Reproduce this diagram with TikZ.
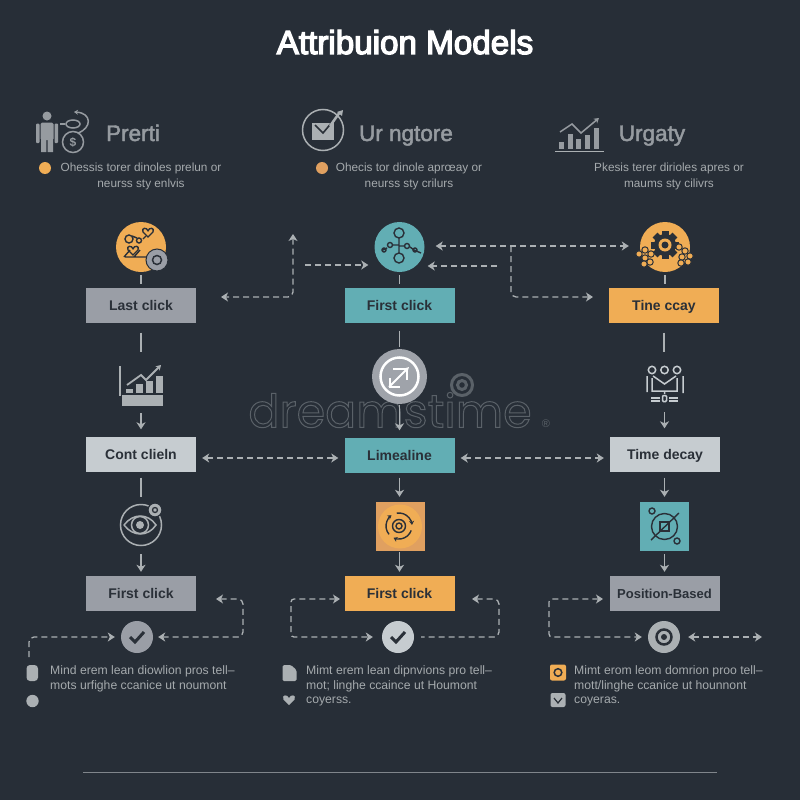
\documentclass[tikz,border=0pt]{standalone}
\usepackage{fontspec}
\setmainfont{Liberation Sans}
\newfontfamily\markfont{Poppins}
\newfontfamily\midfont[FakeBold=2]{Liberation Sans}
\newfontfamily\titlefont[FakeBold=4]{Liberation Sans}
\usetikzlibrary{arrows.meta}
\definecolor{pagedark}{HTML}{272E37}
\definecolor{inkdark}{HTML}{2A3038}
\definecolor{markorange}{HTML}{F0AD55}
\definecolor{softorange}{HTML}{E0A060}
\definecolor{markteal}{HTML}{62AEB4}
\definecolor{boxgrey}{HTML}{9A9EA6}
\definecolor{boxlight}{HTML}{C6CCD0}
\definecolor{linegrey}{HTML}{ABB0B3}
\definecolor{textgrey}{HTML}{A5AAAD}
\definecolor{headgrey}{HTML}{969BA0}
\definecolor{markgrey}{HTML}{5A6168}
\tikzset{
    >={Stealth[length=7pt, width=9pt, inset=2pt]},
    flowbox/.style={rectangle, minimum width=110pt, minimum height=35pt, inner sep=0pt, text=inkdark,
                    text height=10pt, text depth=0pt, font=\fontsize{14}{14}\selectfont\bfseries},
    iconround/.style={circle, minimum size=50pt, inner sep=0pt},
    iconsquare/.style={rectangle, minimum size=49pt, inner sep=0pt},
    checkround/.style={circle, minimum size=32pt, inner sep=0pt},
    headlabel/.style={text=headgrey, anchor=base, font=\fontsize{22.5}{23}\selectfont\midfont, inner sep=0pt},
    introtext/.style={text=textgrey, align=center, inner sep=0pt, font=\fontsize{11.8}{15.5}\selectfont},
    notetext/.style={text=textgrey, align=left, anchor=north west, inner sep=0pt, font=\fontsize{12.2}{14.5}\selectfont},
    stem/.style={draw=linegrey, line width=1.4pt, shorten <=3pt, shorten >=3pt},
    stemarrow/.style={stem, ->},
    dashlink/.style={draw=linegrey, line width=1.3pt, dash pattern=on 6pt off 4pt, rounded corners=5pt, <->},
    dashto/.style={dashlink, ->},
    dashfrom/.style={dashlink, <-},
    iconink/.style={draw=inkdark, line width=1.4pt, fill=none},
    iconpale/.style={draw=linegrey, line width=1.5pt, fill=none},
    heartmark/.pic={\path[pic actions] (0,4) -- (-4,0) .. controls (-5.5,-3.5) and (-1,-4) .. (0,-1)
                    .. controls (1,-4) and (5.5,-3.5) .. (4,0) -- cycle;},
}
\begin{document}
\begin{tikzpicture}[x=1pt, y=-1pt]
    \useasboundingbox (0,0) rectangle (800,800);
    \fill[pagedark] (0,0) rectangle (800,800);

    % Watermark:
    \node[text=markgrey, inner sep=0pt] (markword) at (390,410)
        {\fontsize{46}{46}\selectfont\markfont\special{pdf:code 1 Tr 1 w}dreamstime\special{pdf:code 0 Tr 1 w}};
    \node[text=markgrey, inner sep=0pt, font=\fontsize{11}{11}\selectfont] (markreg) at (546,424) {®};
    \draw[markgrey, line width=3pt] (462,385) circle (10.5) (462,385) circle (4.5);

    % Title and headings:
    \node[text=white, anchor=base, inner sep=0pt, font=\fontsize{33.2}{33}\selectfont\titlefont] (title) at (405,54) {Attribuion Models};
    \node[headlabel] (headone) at (133,141) {Prerti};
    \node[headlabel] (headtwo) at (406,141) {Ur ngtore};
    \node[headlabel] (headthree) at (652,141) {Urgaty};

    \node[introtext] (introone) at (141,176.5) {Ohessis torer dinoles prelun or\\neurss sty enlvis};
    \node[introtext] (introtwo) at (409,176.5) {Ohecis tor dinole aprœay or\\neurss sty crilurs};
    \node[introtext] (introthree) at (669,176.5) {Pkesis terer dirioles apres or\\maums sty cilivrs};
    \fill[markorange] (45,168) circle (6);
    \fill[softorange] (322,168) circle (6);

    % Heading icons:
    \fill[headgrey] (47,116) circle (4.5);
    \fill[headgrey, rounded corners=1.5pt] (40.5,122.5) rectangle (53.5,140);
    \fill[headgrey] (41,138) rectangle (46.3,152) (47.7,138) rectangle (53,152);
    \fill[headgrey, rounded corners=1pt] (36,123.5) rectangle (39.5,143) (54.5,123.5) rectangle (58,143);
    \draw[iconpale, draw=headgrey] (73,142) circle (10.5);
    \node[text=headgrey, inner sep=0pt, font=\fontsize{12}{12}\selectfont\bfseries] (dollar) at (73,142) {\$};
    \draw[iconpale, draw=headgrey] (73,124) ellipse (7 and 4);
    \draw[iconpale, draw=headgrey, -{Stealth[length=4pt, width=5pt]}] (78,133) .. controls (92,128) and (92,113) .. (74,112);
    \draw[iconpale, draw=headgrey] (60,124) -- (65,124);

    \draw[iconpale] (323,130) circle (20.5);
    \fill[linegrey] (312,123) rectangle (334,140);
    \draw[inkdark, line width=1.6pt] (315,125) -- (323,133) -- (333,121);
    \draw[linegrey, line width=2.5pt] (330,126) -- (340,112);
    \fill[linegrey] (337,112) -- (343,110) -- (342,116) -- cycle;

    \draw[iconpale, line width=1.8pt] (555,151.5) -- (604,151.5);
    \foreach \barx/\bartop in {561/142, 570/134, 578/139, 587/135, 596/128}
        \fill[headgrey] (\barx-2.5,\bartop) rectangle (\barx+2.5,149);
    \draw[iconpale, draw=headgrey, -{Stealth[length=5pt, width=6pt]}] (560,132) -- (572,124) -- (581,133) -- (599,118);

    % Flow boxes:
    \node[flowbox, fill=boxgrey] (boxlast) at (141,305) {Last click};
    \node[flowbox, fill=markteal] (boxfirst) at (399.5,305) {First click};
    \node[flowbox, fill=markorange] (boxtine) at (664,305) {Tine ccay};
    \node[flowbox, fill=boxlight] (boxcont) at (141,454) {Cont clieln};
    \node[flowbox, fill=markteal] (boxlime) at (399.5,455) {Limealine};
    \node[flowbox, fill=boxlight] (boxdecay) at (665,454) {Time decay};
    \node[flowbox, fill=boxgrey] (boxclick) at (141,593.5) {First click};
    \node[flowbox, fill=markorange] (boxsecond) at (399.5,593.5) {First click};
    \node[flowbox, fill=boxgrey, font=\fontsize{13}{13}\selectfont\bfseries] (boxposition) at (664.5,593.5) {Position-Based};

    % Round and square icons:
    \node[iconround, fill=markorange] (roundlast) at (141,247) {};
    \node[iconround, fill=markteal] (roundfirst) at (399.5,247) {};
    \node[iconround, fill=markorange] (roundtine) at (665,247) {};
    \node[iconround, minimum size=55pt, fill=boxgrey!95!white] (roundlime) at (399.5,376.5) {};
    \node[iconsquare, fill=softorange] (squareorange) at (400,526.5) {};
    \node[iconsquare, fill=markteal] (squareteal) at (664.5,526.5) {};
    \coordinate (chartleft) at (141,385);
    \coordinate (peopleright) at (664.5,385);
    \coordinate (eyeleft) at (141,525);

    % Orange round icon:
    \draw[iconink] (129,239) circle (4) (139,240.5) circle (2.5) (132,236) -- (137,238) (143,239) -- (146,236);
    \draw[iconink] (125,257) -- (148,257) (124,257) -- (130,250) (134,257) -- (140,250);
    \pic[iconink, scale=1.25] at (148,232) {heartmark};
    \pic[iconink, scale=1.25] at (133,250) {heartmark};
    \fill[boxgrey, draw=pagedark, line width=1pt] (157,260) circle (11);
    \draw[inkdark, line width=1.5pt] (157,260) circle (4.5);

    % Teal round icon:
    \draw[iconink] (399,238) -- (399,253) (399,246) -- (405,246) (392,245) -- (399,245) (387,248) -- (383,250)
        (410,247) -- (414,250) -- (421,253);
    \draw[iconink] (399,233) circle (5) (399,258) circle (5) (390,245) circle (2.5) (407,246) circle (2.5) (384,250) circle (2) (415,250) circle (2);

    % Gear icon:
    \foreach \a in {0,45,...,315}
        \fill[inkdark, rotate around={\a:(665,245)}] (661.5,231) rectangle (668.5,237);
    \fill[inkdark] (665,245) circle (11);
    \fill[markorange] (665,245) circle (6.5);
    \fill[inkdark] (665,245) circle (3.5);
    \foreach \bx/\by in {639/254, 645/250, 651/254, 645/258, 650/262, 644/264,
                         679/247, 685/251, 690/256, 682/257, 688/262, 681/263}
        \draw[inkdark, fill=markorange, line width=1pt] (\bx,\by) circle (3.2);

    % Middle row icons:
    \draw[iconpale] (120,366) -- (120,396);
    \fill[linegrey] (122,395) rectangle (163,406);
    \foreach \barx/\bartop in {129/389, 139/384, 149/381, 159/376}
        \fill[linegrey] (\barx-3.5,\bartop) rectangle (\barx+3.5,393);
    \draw[iconpale, line width=1.8pt, -{Stealth[length=5pt, width=6pt]}] (127,385) -- (141,375) -- (146,380) -- (161,365);

    \draw[white, line width=2.5pt] (399.5,376.5) circle (19);
    \draw[white, line width=2pt, -{Stealth[length=6pt, width=6pt]}] (389,387) -- (409,367);
    \draw[white, line width=2pt] (393,369) -- (407,369) (407,369) -- (407,380) (390,378) -- (390,387) -- (400,387);

    \draw[iconpale, draw=boxlight] (652,370) circle (3.7) (664.5,370) circle (3.7) (677,370) circle (3.7);
    \draw[iconpale, draw=boxlight] (647,376) -- (647,392) (683,376) -- (683,393) (653,376) -- (664.5,384) -- (676,376)
        (652,378) -- (652,391) -- (677,391) -- (677,378) (664.5,391) -- (664.5,394);
    \draw[iconpale, draw=boxlight] (651,398) -- (660,398) (651,401) -- (660,401) (669,398) -- (678,398) (669,401) -- (678,401);
    \draw[iconpale, draw=boxlight, rounded corners=1pt] (662.5,395.5) rectangle (666.5,401.5);

    % Lower row icons:
    \draw[iconpale] (141,525) circle (20.5);
    \draw[iconpale] (124,525) .. controls (133,513) and (148,513) .. (156,525) .. controls (148,537) and (133,537) .. (124,525);
    \draw[iconpale] (140,525) circle (8.5);
    \fill[linegrey] (140,525) circle (4);
    \fill[linegrey, draw=pagedark, line width=1.2pt] (155,510) circle (7);
    \draw[inkdark, line width=1.3pt] (155,510) circle (2.5);

    \fill[markorange] (400,526.5) circle (22);
    \foreach \a in {20,140,260}
        \draw[iconink, -{Stealth[length=4pt, width=5pt]}] (399,526) ++(\a:13) arc (\a:\a+95:13);
    \draw[iconink] (399,526) circle (6.5) (399,526) circle (3);

    \draw[iconink] (664.5,526.5) circle (13);
    \draw[iconink, line width=1.8pt] (660,522) rectangle (669,531);
    \draw[iconink] (651,540) -- (679,513);
    \draw[iconink] (652,511) circle (3) (677,541) circle (3);

    % Check circles:
    \node[checkround, fill=boxgrey] (checkleft) at (137,637) {};
    \node[checkround, fill=boxlight] (checkmiddle) at (398,637) {};
    \node[checkround, fill=linegrey] (targetright) at (664,637) {};
    \draw[inkdark, line width=3pt] (130,637) -- (135,642) -- (144,632);
    \draw[inkdark, line width=3pt] (391,637) -- (396,642) -- (405,632);
    \draw[inkdark, line width=2.5pt] (664,637) circle (7.5);
    \fill[inkdark] (664,637) circle (3);

    % Solid links:
    \draw[stem] (roundlast.south) -- (boxlast.north);
    \draw[stem] (roundfirst.south) -- (boxfirst.north);
    \draw[stem] (roundtine.south) -- (roundtine.south |- boxtine.north);
    \draw[stem, shorten <=10pt, shorten >=33pt] (boxlast.south) -- (chartleft);
    \draw[stem, shorten <=8pt, shorten >=2pt] (boxfirst.south) -- (roundlime.north);
    \draw[stem, shorten <=10pt, shorten >=33pt] (boxtine.south) -- (boxtine.south |- peopleright);
    \draw[stemarrow, shorten <=28pt, shorten >=7pt] (chartleft) -- (boxcont.north);
    \draw[stemarrow, shorten <=1pt, shorten >=7pt] (roundlime.south) -- (boxlime.north);
    \draw[stemarrow, shorten <=27pt, shorten >=8pt] (peopleright) -- (peopleright |- boxdecay.north);
    \draw[stem, shorten <=6pt, shorten >=28pt] (boxcont.south) -- (eyeleft);
    \draw[stemarrow, shorten <=5pt, shorten >=5pt] (boxlime.south) -- (boxlime.south |- squareorange.north);
    \draw[stemarrow, shorten <=6pt, shorten >=5pt] (boxdecay.south -| squareteal) -- (squareteal.north);
    \draw[stemarrow, shorten <=29pt, shorten >=4pt] (eyeleft) -- (boxclick.north);
    \draw[stemarrow, shorten <=1pt, shorten >=4pt] (squareorange.south -| boxsecond) -- (boxsecond.north);
    \draw[stemarrow, shorten <=3pt, shorten >=4pt] (squareteal.south) -- (boxposition.north);

    % Dashed links, upper part:
    \coordinate (uptip) at (293,234);
    \coordinate (lefttip) at (221,297);
    \coordinate (startfirst) at (305,265);
    \coordinate (startback) at (497,266);
    \coordinate (forkpoint) at (511,246);
    \coordinate (timetip) at (593,297);
    \draw[dashlink] (uptip) |- (lefttip);
    \draw[dashto, shorten >=6pt] (startfirst) -- (startfirst -| roundfirst.west);
    \draw[dashlink, shorten <=11pt, shorten >=11pt] (roundfirst.east |- forkpoint) -- (roundtine.west |- forkpoint);
    \draw[dashto] (forkpoint) |- (timetip);
    \draw[dashto, shorten >=3pt] (startback) -- (startback -| roundfirst.east);

    % Dashed links, middle part:
    \draw[dashlink, shorten <=6pt, shorten >=6pt] ([yshift=-4pt]boxcont.east) -- ([yshift=-3pt]boxlime.west);
    \draw[dashlink, shorten <=6pt, shorten >=6pt] ([yshift=-3pt]boxlime.east) -- ([yshift=-4pt]boxdecay.west);

    % Dashed links, lower part:
    \coordinate (loopaone) at (216,599);
    \coordinate (loopatwo) at (243,637);
    \coordinate (loopbone) at (29,657);
    \coordinate (loopcone) at (340,599);
    \coordinate (loopctwo) at (291,637);
    \coordinate (loopdone) at (472,599);
    \coordinate (loopdtwo) at (499,637);
    \coordinate (loopdend) at (421,637);
    \coordinate (loopeone) at (603,599);
    \coordinate (loopetwo) at (549,637);
    \coordinate (loopfend) at (762,637);
    \draw[dashlink, shorten >=5pt] (loopaone) -| (loopatwo) -- (checkleft.east);
    \draw[dashto, shorten >=6pt] (loopbone) |- (checkleft.west);
    \draw[dashlink, shorten >=9pt, rounded corners=3pt] (loopcone) -| (loopctwo) -- (checkmiddle.west);
    \draw[dashfrom] (loopdone) -| (loopdtwo) -- (loopdend);
    \draw[dashlink, shorten >=6pt, rounded corners=3pt] (loopeone) -| (loopetwo) -- (targetright.west);
    \draw[dashlink, shorten <=8pt] (targetright.east) -- (loopfend);

    % Notes with their bullets:
    \node[notetext] (noteone) at (50,665.5) {Mind erem lean diowlion pros tell–\\mots urfighe ccanice ut noumont};
    \node[notetext] (notetwo) at (306,665.5) {Mimt erem lean dipnvions pro tell–\\mot; linghe ccaince ut Houmont\\coyerss.};
    \node[notetext] (notethree) at (574,665.5) {Mimt erom leom domrion proo tell–\\mott/linghe ccanice ut hounnont\\coyeras.};

    \fill[linegrey, rounded corners=3.5pt] (26.5,665) rectangle (38,681);
    \fill[linegrey] (32.5,701) circle (6.2);
    \fill[linegrey, rounded corners=1.5pt] (282.5,665) -- (291,665) -- (296.5,670) -- (296.5,681) -- (282.5,681) -- cycle;
    \pic[fill=linegrey, scale=1.4] at (289,699.5) {heartmark};
    \fill[markorange, rounded corners=2pt] (550,664.5) rectangle (566,680.5);
    \draw[inkdark, line width=1.5pt] (558,672.5) circle (3.8);
    \fill[linegrey, rounded corners=2pt] (550.5,693) rectangle (565.5,707);
    \draw[inkdark, line width=1.2pt] (554,698) -- (558,703) -- (562,698);

    % Bottom rule:
    \draw[draw=headgrey!80!pagedark, line width=1pt] (83,772.5) -- (717,772.5);
\end{tikzpicture}
\end{document}
